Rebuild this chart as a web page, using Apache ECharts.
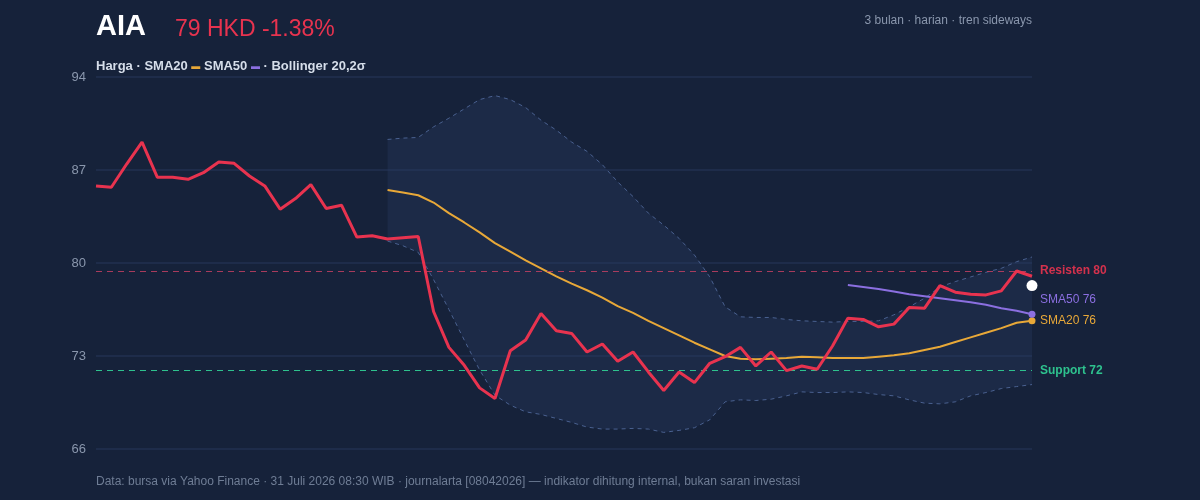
<!DOCTYPE html><html><head><meta charset="utf-8"><script src="https://cdn.jsdelivr.net/npm/echarts@6/dist/echarts.min.js"></script>
<style>html,body{margin:0;background:#16223a}#c{width:1200px;height:500px}</style></head><body><div id="c"></div><script>
const price=[85.8,85.7,87.45,89.1,86.45,86.45,86.3,86.8,87.6,87.5,86.55,85.8,84.05,84.85,85.9,84.1,84.35,81.95,82.05,81.8,81.9,82.0,76.35,73.65,72.3,70.6,69.8,73.4,74.2,76.2,74.9,74.7,73.3,73.9,72.6,73.3,71.8,70.4,71.8,71.0,72.45,72.95,73.65,72.25,73.3,71.9,72.25,72.0,73.75,75.85,75.75,75.2,75.4,76.65,76.6,78.3,77.8,77.65,77.6,77.9,79.4,79.0];
const sma20Vals=[85.5,85.3,85.1,84.55,83.75,83.05,82.3,81.5,80.85,80.2,79.6,79.0,78.45,77.95,77.4,76.75,76.25,75.65,75.1,74.55,74.0,73.5,73.0,72.8,72.75,72.8,72.85,72.95,72.9,72.85,72.85,72.85,72.95,73.05,73.2,73.45,73.7,74.05,74.4,74.75,75.1,75.5,75.65];
const sma50Vals=[78.35,78.2,78.05,77.85,77.65,77.5,77.35,77.2,77.05,76.85,76.6,76.4,76.15];
const bbUpperVals=[89.3,89.4,89.45,90.25,90.9,91.6,92.3,92.6,92.3,91.7,90.75,90.0,89.1,88.4,87.4,86.1,85.0,83.75,82.85,81.85,80.6,78.95,76.7,75.95,75.9,75.9,75.75,75.65,75.6,75.55,75.6,75.6,75.65,76.1,76.7,77.35,78.2,78.6,78.95,79.3,79.6,80.1,80.45];
const bbLowerVals=[81.65,81.3,80.8,78.75,76.5,74.2,71.95,70.05,69.3,68.8,68.6,68.3,68.0,67.65,67.5,67.5,67.55,67.5,67.25,67.4,67.6,68.2,69.55,69.7,69.65,69.75,70.0,70.3,70.25,70.25,70.3,70.25,70.1,70.0,69.7,69.45,69.4,69.55,70.0,70.25,70.55,70.7,70.85];
const resistance=79.4, support=71.9, lastMarker=78.3;
const yTicks=[66,73,80,87,94];
const cats=price.map((_,i)=>i);
const pad=(arr,start)=>cats.map(i=>i<start?null:arr[i-start]);
const sma20=pad(sma20Vals,19), sma50=pad(sma50Vals,49), up=pad(bbUpperVals,19), lo=pad(bbLowerVals,19);
const band=cats.map(i=>up[i]==null?null:+(up[i]-lo[i]).toFixed(2));
const c=echarts.init(document.getElementById('c'));
const gray='#8a97ad', F='"Liberation Sans", Arial, sans-serif';
c.setOption({backgroundColor:'#16223a',animation:false,textStyle:{fontFamily:F},
grid:{left:96,right:168,top:77,bottom:51},
xAxis:{type:'category',data:cats,boundaryGap:false,show:false},
yAxis:{type:'value',min:66,max:94,interval:7,axisLine:{show:false},axisTick:{show:false},
 axisLabel:{color:gray,fontSize:13,margin:10,fontFamily:F},splitLine:{lineStyle:{color:'#223150',width:1.5}}},
graphic:[
 {type:'text',left:96,top:12,style:{text:'AIA',fill:'#fff',font:'bold 29px '+F}},
 {type:'text',left:175,top:18,style:{text:'79 HKD -1.38%',fill:'#e8334f',font:'23px '+F}},
 {type:'text',right:168,top:15,style:{text:'3 bulan · harian · tren sideways',fill:gray,font:'12px '+F,align:'right'}},
 {type:'text',left:96,top:60,style:{text:'{a|Harga · SMA20 }{o|▬}{a| SMA50 }{p|▬}{a| · Bollinger 20,2σ}',rich:{a:{fill:'#d6deea',fontWeight:'bold',fontSize:13,fontFamily:F},o:{fill:'#e8a838',fontSize:9},p:{fill:'#8b6fe0',fontSize:9}}}},
 {type:'text',left:96,top:476,style:{text:'Data: bursa via Yahoo Finance · 31 Juli 2026 08:30 WIB · journalarta [08042026] — indikator dihitung internal, bukan saran investasi',fill:'#6f7d95',font:'12px '+F}}
],
series:[
 {type:'line',data:lo,stack:'bb',symbol:'none',lineStyle:{color:'#4a6190',type:[4,4],width:1},areaStyle:{opacity:0}},
 {type:'line',data:band,stack:'bb',symbol:'none',lineStyle:{opacity:0},areaStyle:{color:'rgba(42,60,100,0.45)'}},
 {type:'line',data:up,symbol:'none',lineStyle:{color:'#4a6190',type:[4,4],width:1}},
 {type:'line',data:sma20,symbol:'none',lineStyle:{color:'#e8a838',width:2},
  endLabel:{show:true,formatter:'SMA20 76',color:'#e8a838',fontSize:12,fontFamily:F,distance:8},
  markPoint:{symbol:'circle',symbolSize:7,itemStyle:{color:'#e8a838'},label:{show:false},data:[{coord:[61,sma20Vals[sma20Vals.length-1]]}]}},
 {type:'line',data:sma50,symbol:'none',lineStyle:{color:'#8b6fe0',width:2},
  endLabel:{show:true,formatter:'SMA50 76',color:'#8b6fe0',fontSize:12,fontFamily:F,distance:8,offset:[0,-14]},
  markPoint:{symbol:'circle',symbolSize:7,itemStyle:{color:'#8b6fe0'},label:{show:false},data:[{coord:[61,sma50Vals[sma50Vals.length-1]]}]}},
 {type:'line',data:price,symbol:'none',lineStyle:{color:'#e8334f',width:3},z:5,
  markPoint:{symbol:'circle',symbolSize:11,itemStyle:{color:'#fff'},label:{show:false},data:[{coord:[61,lastMarker]}]},
  markLine:{symbol:'none',silent:true,data:[
   {yAxis:resistance,lineStyle:{color:'#b83e60',type:[6,5],width:1.2,opacity:0.9},label:{formatter:'Resisten 80',position:'end',color:'#e8334f',fontWeight:'bold',fontSize:12,fontFamily:F,distance:8}},
   {yAxis:support,lineStyle:{color:'#2ec28e',type:[6,5],width:1.2},label:{formatter:'Support 72',position:'end',color:'#2ec28e',fontWeight:'bold',fontSize:12,fontFamily:F,distance:8}}]}}
]});
</script></body></html>
